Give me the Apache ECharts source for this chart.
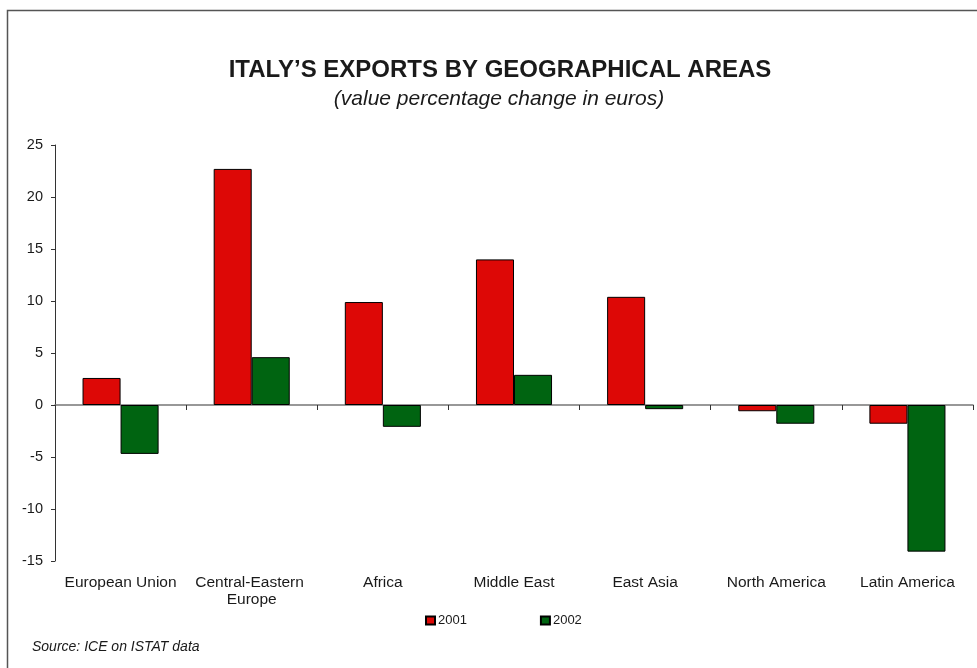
<!DOCTYPE html>
<html>
<head>
<meta charset="utf-8">
<script src="https://cdn.jsdelivr.net/npm/echarts@6/dist/echarts.min.js"></script>
<style>
  html, body { margin: 0; padding: 0; background: #fff; }
  #chart { width: 977px; height: 668px; }
</style>
</head>
<body>
<div id="chart"></div>
<script>
// Regions and yearly value change of exports (%)
const categories = ['European Union', 'Central-Eastern Europe', 'Africa', 'Middle East', 'East Asia', 'North America', 'Latin America'];
const seriesNames = ['2001', '2002'];
const values2001 = [2.6, 22.7, 9.9, 14.0, 10.4, -0.6, -1.8];
const values2002 = [-4.7, 4.6, -2.1, 2.9, -0.4, -1.8, -14.1];
const yTicks = { min: -15, max: 25, step: 5 };

const FONT = '"Liberation Sans", Arial, sans-serif';
const TEXT = '#1a1a1a';

const chart = echarts.init(document.getElementById('chart'), null, { renderer: 'canvas' });

chart.setOption({
  backgroundColor: '#fff',
  animation: false,
  textStyle: { fontFamily: FONT, color: TEXT },
  graphic: [
    {
      type: 'rect',
      shape: { x: 7.5, y: 10.5, width: 1000, height: 700 },
      style: { fill: 'none', stroke: '#555', lineWidth: 1.5 },
      silent: true
    },
    {
      type: 'text',
      x: 500,
      y: 58,
      style: {
        text: 'ITALY\u2019S EXPORTS BY GEOGRAPHICAL AREAS',
        font: 'bold 24px ' + FONT,
        fill: TEXT,
        align: 'center',
        verticalAlign: 'top'
      }
    },
    {
      type: 'text',
      x: 499,
      y: 89,
      style: {
        text: '(value percentage change in euros)',
        font: 'italic 21px ' + FONT,
        fill: TEXT,
        align: 'center',
        verticalAlign: 'top'
      }
    },
    {
      type: 'text',
      x: 32,
      y: 640,
      style: {
        text: 'Source: ICE on ISTAT data',
        font: 'italic 14px ' + FONT,
        fill: TEXT,
        align: 'left',
        verticalAlign: 'top'
      }
    }
  ],
  legend: {
    data: seriesNames,
    left: 425,
    top: 614,
    padding: 0,
    icon: 'rect',
    itemWidth: 9,
    itemHeight: 8,
    itemGap: 73,
    textStyle: { fontFamily: FONT, fontSize: 13, color: TEXT, padding: [0, 0, 0, -2] }
  },
  grid: { left: 55, right: 4, top: 145, bottom: 107, containLabel: false },
  xAxis: [
    {
      type: 'category',
      data: categories,
      position: 'bottom',
      axisLine: { show: false, onZero: false },
      axisTick: { show: false },
      axisLabel: {
        interval: 0,
        margin: 13,
        fontSize: 15.5,
        lineHeight: 17,
        color: TEXT,
        fontFamily: FONT,
        width: 128,
        overflow: 'break'
      }
    },
    {
      type: 'category',
      data: categories,
      position: 'bottom',
      axisLine: { show: true, onZero: true, lineStyle: { color: '#777', width: 1.5 } },
      axisTick: { show: true, interval: 0, length: 5, lineStyle: { color: '#333' } },
      axisLabel: { show: false }
    }
  ],
  yAxis: {
    type: 'value',
    min: yTicks.min,
    max: yTicks.max,
    interval: yTicks.step,
    splitLine: { show: false },
    axisLine: { show: true, lineStyle: { color: '#333', width: 1 } },
    axisTick: { show: true, length: 4, lineStyle: { color: '#333' } },
    axisLabel: { fontSize: 14.5, color: TEXT, fontFamily: FONT, margin: 12 }
  },
  series: [
    {
      name: seriesNames[0],
      type: 'bar',
      xAxisIndex: 0,
      data: values2001,
      barGap: '0%',
      barCategoryGap: '42%',
      itemStyle: { color: '#dd0806', borderColor: '#000', borderWidth: 1 }
    },
    {
      name: seriesNames[1],
      type: 'bar',
      xAxisIndex: 0,
      data: values2002,
      barGap: '0%',
      barCategoryGap: '42%',
      itemStyle: { color: '#006411', borderColor: '#000', borderWidth: 1 }
    }
  ]
});
</script>
</body>
</html>
